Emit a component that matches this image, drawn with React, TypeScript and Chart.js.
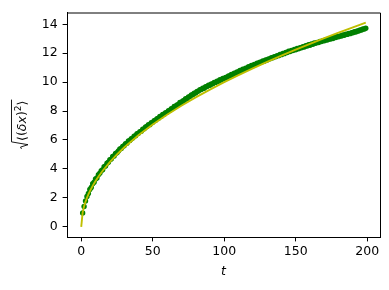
import React, { useEffect, useRef } from "react";
import { Chart, registerables } from "chart.js";

Chart.register(...registerables);

// Green: measured RMS displacement, t = 1..199
const GREEN_T_START = 1;
const GREEN_Y = [
  0.95, 1.40, 1.78, 2.10, 2.30, 2.58, 2.72, 2.97, 3.08, 3.30,
  3.38, 3.60, 3.70, 3.88, 3.95, 4.15, 4.20, 4.40, 4.46, 4.63,
  4.68, 4.86, 4.90, 5.07, 5.12, 5.24, 5.38, 5.41, 5.55, 5.61,
  5.74, 5.78, 5.93, 5.97, 6.09, 6.13, 6.27, 6.29, 6.43, 6.46,
  6.58, 6.61, 6.75, 6.77, 6.90, 6.93, 7.06, 7.06, 7.19, 7.22,
  7.34, 7.36, 7.48, 7.50, 7.63, 7.64, 7.76, 7.78, 7.89, 7.91,
  8.03, 8.05, 8.17, 8.18, 8.31, 8.33, 8.43, 8.46, 8.59, 8.60,
  8.70, 8.73, 8.85, 8.85, 8.98, 9.00, 9.11, 9.13, 9.23, 9.25,
  9.35, 9.38, 9.48, 9.49, 9.58, 9.58, 9.68, 9.69, 9.78, 9.78,
  9.87, 9.88, 9.97, 9.98, 10.06, 10.06, 10.17, 10.15, 10.25, 10.25,
  10.33, 10.34, 10.43, 10.43, 10.53, 10.52, 10.61, 10.62, 10.70, 10.70,
  10.80, 10.78, 10.89, 10.87, 10.97, 10.96, 11.06, 11.04, 11.15, 11.13,
  11.22, 11.22, 11.30, 11.30, 11.38, 11.38, 11.46, 11.45, 11.53, 11.53,
  11.61, 11.61, 11.69, 11.68, 11.76, 11.76, 11.83, 11.83, 11.91, 11.90,
  11.98, 11.97, 12.06, 12.04, 12.13, 12.11, 12.19, 12.18, 12.26, 12.24,
  12.32, 12.31, 12.38, 12.37, 12.45, 12.43, 12.52, 12.49, 12.58, 12.55,
  12.64, 12.61, 12.70, 12.68, 12.75, 12.74, 12.81, 12.80, 12.87, 12.86,
  12.93, 12.91, 12.98, 12.97, 13.04, 13.02, 13.09, 13.08, 13.15, 13.13,
  13.20, 13.19, 13.26, 13.24, 13.31, 13.30, 13.37, 13.35, 13.42, 13.41,
  13.48, 13.46, 13.54, 13.53, 13.61, 13.60, 13.68, 13.67, 13.73,
];

// Yellow: model curve sampled points
const YELLOW_T = [0, 1, 2, 3, 4, 5, 6, 8, 10, 12, 15, 20, 25, 30, 40, 50, 60, 70, 80, 90, 100, 110, 120, 130, 140, 150, 160, 170, 180, 190, 199];
const YELLOW_Y = [0, 1.0, 1.414, 1.732, 2.0, 2.236, 2.449, 2.828, 3.162, 3.464, 3.873, 4.472, 5.0, 5.477, 6.325, 7.071, 7.746, 8.367, 8.944, 9.487, 10.0, 10.488, 10.954, 11.402, 11.832, 12.247, 12.649, 13.038, 13.416, 13.784, 14.107];

const X_TICKS = [0, 50, 100, 150, 200];
const Y_TICKS = [0, 2, 4, 6, 8, 10, 12, 14];
const X_LABEL = "t";

const FONT = "DejaVu Sans";

export default function App() {
  const ref = useRef<HTMLCanvasElement | null>(null);

  useEffect(() => {
    const canvas = ref.current;
    if (!canvas) return;

    const green = GREEN_Y.map((y, i) => ({ x: GREEN_T_START + i, y }));
    const yellow = YELLOW_T.map((t, i) => ({ x: t, y: YELLOW_Y[i] }));

    const framePlugin = {
      id: "frame",
      afterDraw(chart: any) {
        const { ctx, chartArea } = chart;
        ctx.save();
        ctx.strokeStyle = "#000";
        ctx.lineWidth = 1;
        ctx.beginPath();
        ctx.moveTo(chartArea.left, chartArea.top + 0.5);
        ctx.lineTo(chartArea.right + 0.5, chartArea.top + 0.5);
        ctx.lineTo(chartArea.right + 0.5, chartArea.bottom);
        ctx.stroke();

        // x label
        ctx.fillStyle = "#000";
        ctx.font = `italic 12.5px "${FONT}"`;
        ctx.textAlign = "center";
        ctx.textBaseline = "middle";
        ctx.fillText(X_LABEL, (chartArea.left + chartArea.right) / 2, 272);

        // y label: sqrt(<(δx)^2>)
        ctx.translate(21, (chartArea.top + chartArea.bottom) / 2);
        ctx.rotate(-Math.PI / 2);
        ctx.textAlign = "left";
        ctx.textBaseline = "alphabetic";
        const normal = `12.5px "${FONT}"`;
        const italic = `italic 12.5px "${FONT}"`;
        const small = `9px "${FONT}"`;
        const parts = [
          { t: "⟨(", f: normal, dy: 0 },
          { t: "δx", f: italic, dy: 0 },
          { t: ")", f: normal, dy: 0 },
          { t: "2", f: small, dy: -5 },
          { t: "⟩", f: normal, dy: 0 },
        ];
        let w = 0;
        const widths = parts.map((p) => {
          ctx.font = p.f;
          const m = ctx.measureText(p.t).width;
          w += m;
          return m;
        });
        const radW = 8;
        const total = radW + w;
        const base = 4.5;
        let x = -total / 2;
        const x0 = x;
        ctx.lineWidth = 0.9;
        ctx.beginPath();
        ctx.moveTo(x0, base - 4);
        ctx.lineTo(x0 + 1.8, base - 5);
        ctx.lineTo(x0 + 4.2, base + 2.5);
        ctx.lineTo(x0 + 7, base - 14);
        ctx.lineTo(x0 + total + 1, base - 14);
        ctx.stroke();
        x += radW;
        parts.forEach((p, i) => {
          ctx.font = p.f;
          ctx.fillText(p.t, x, base + p.dy);
          x += widths[i];
        });
        ctx.restore();
      },
    };

    const tickFont = { family: FONT, size: 12.5 };

    const chart = new Chart(canvas, {
      type: "scatter",
      data: {
        datasets: [
          {
            data: yellow,
            showLine: true,
            borderColor: "#bfbf00",
            borderWidth: 1.9,
            pointRadius: 0,
            tension: 0,
            order: 0,
          },
          {
            data: green,
            showLine: false,
            backgroundColor: "#008000",
            borderColor: "#008000",
            borderWidth: 0,
            pointRadius: 2.7,
            order: 1,
          },
        ],
      },
      options: {
        animation: false,
        responsive: false,
        devicePixelRatio: 1,
        layout: { padding: { top: 10, right: 9, left: 0, bottom: 0 } },
        plugins: { legend: { display: false }, tooltip: { enabled: false } },
        scales: {
          x: {
            type: "linear",
            min: -9.95,
            max: 208.95,
            afterBuildTicks: (s: any) => {
              s.ticks = X_TICKS.map((v) => ({ value: v }));
            },
            afterFit: (s: any) => {
              s.height = 53;
            },
            grid: { drawOnChartArea: false, drawTicks: true, tickLength: 4.4, color: "#000", lineWidth: 1 },
            border: { display: true, color: "#000", width: 1 },
            ticks: { color: "#000", font: tickFont, padding: 3, maxRotation: 0, autoSkip: false },
          },
          y: {
            type: "linear",
            min: -0.706,
            max: 14.813,
            afterBuildTicks: (s: any) => {
              s.ticks = Y_TICKS.map((v) => ({ value: v }));
            },
            afterFit: (s: any) => {
              s.width = 67;
            },
            grid: { drawOnChartArea: false, drawTicks: true, tickLength: 4.4, color: "#000", lineWidth: 1 },
            border: { display: true, color: "#000", width: 1 },
            ticks: { color: "#000", font: tickFont, padding: 5, autoSkip: false },
          },
        },
      },
      plugins: [framePlugin],
    } as any);

    return () => chart.destroy();
  }, []);

  return (
    <div style={{ position: "absolute", left: 0, top: 0, width: 389, height: 290, background: "#fff" }}>
      <canvas ref={ref} width={389} height={290} style={{ width: 389, height: 290, display: "block" }} />
    </div>
  );
}
